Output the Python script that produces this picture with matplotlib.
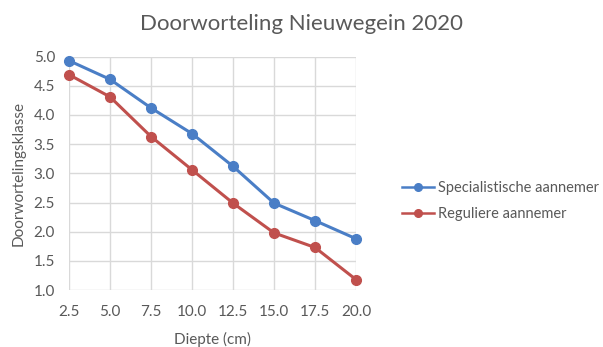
import matplotlib
matplotlib.use("Agg")
import matplotlib.pyplot as plt
from matplotlib.lines import Line2D

plt.rcParams['font.family'] = ['Lato', 'DejaVu Sans']

# Depth (cm) and root-penetration class per contractor type
diepte = [2.5, 5.0, 7.5, 10.0, 12.5, 15.0, 17.5, 20.0]
specialistisch = [4.93, 4.61, 4.12, 3.68, 3.12, 2.49, 2.19, 1.88]
regulier = [4.69, 4.31, 3.63, 3.06, 2.49, 1.98, 1.73, 1.18]
y_ticks = [1.0, 1.5, 2.0, 2.5, 3.0, 3.5, 4.0, 4.5, 5.0]
series_names = ['Specialistische aannemer', 'Reguliere aannemer']

text_grey = '#595959'
grid_grey = '#D9D9D9'
blue = '#4A7EC6'
red = '#C0504D'

fig = plt.figure(figsize=(6.03, 3.47), dpi=100)
ax = fig.add_axes([0.1144, 0.164, 0.476, 0.673])

ax.plot(diepte, specialistisch, color=blue, marker='o', markersize=7,
        linewidth=2.2, clip_on=False, zorder=3)
ax.plot(diepte, regulier, color=red, marker='o', markersize=7,
        linewidth=2.2, clip_on=False, zorder=3)

ax.set_xlim(2.5, 20.0)
ax.set_ylim(1.0, 5.0)
ax.set_xticks(diepte)
ax.set_xticklabels([f'{v:.1f}' for v in diepte])
ax.set_yticks(y_ticks)
ax.set_yticklabels([f'{v:.1f}' for v in y_ticks])

ax.grid(True, color=grid_grey, linewidth=1.0)
ax.set_axisbelow(True)
for s in ax.spines.values():
    s.set_visible(False)
ax.tick_params(length=0, colors=text_grey, labelsize=11)
ax.tick_params(axis='y', pad=10)
ax.tick_params(axis='x', pad=11)

ax.set_xlabel('Diepte (cm)', color=text_grey, fontsize=11, labelpad=9)
ax.set_ylabel('Doorwortelingsklasse', color=text_grey, fontsize=11, labelpad=6)

fig.text(0.5, 0.93, 'Doorworteling Nieuwegein 2020', ha='center', va='center',
         color=text_grey, fontsize=16)

handles = [Line2D([], [], color=blue, marker='o', markersize=5.5, linewidth=1.8),
           Line2D([], [], color=red, marker='o', markersize=5.5, linewidth=1.8)]
fig.legend(handles, series_names, loc='center left', bbox_to_anchor=(0.645, 0.42),
           frameon=False, fontsize=10.5, labelcolor=text_grey, handlelength=2.2,
           handletextpad=0.25, labelspacing=0.85)

fig.savefig('out.png', dpi=100, facecolor='white')
